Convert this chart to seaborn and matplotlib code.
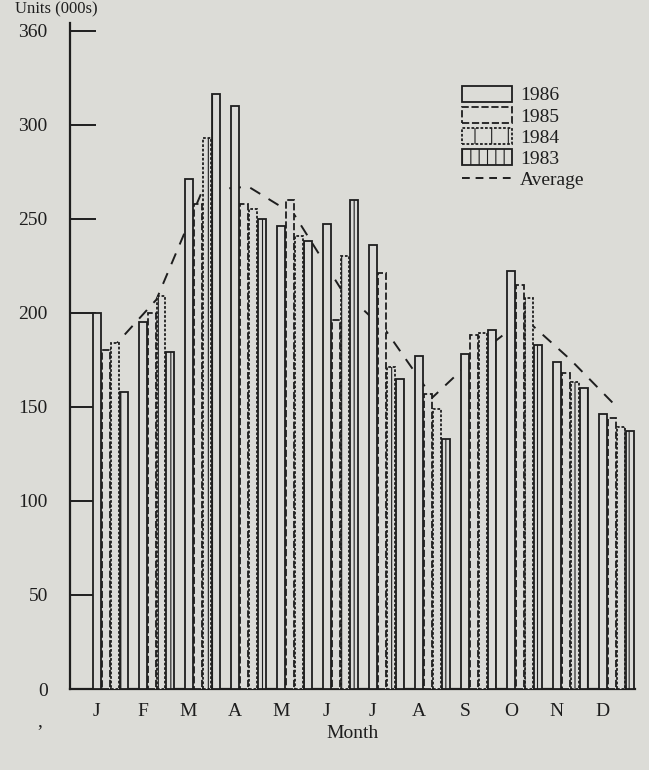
import numpy as np
import pandas as pd
import matplotlib
matplotlib.use("Agg")
import matplotlib.pyplot as plt
import seaborn as sns
from matplotlib.patches import Patch
from matplotlib.lines import Line2D

# ---- data ----
months = ["J", "F", "M", "A", "M", "J", "J", "A", "S", "O", "N", "D"]
years = ["1986", "1985", "1984", "1983"]
v1986 = [200, 195, 271, 310, 246, 247, 236, 177, 178, 222, 174, 146]
v1985 = [180, 200, 258, 258, 260, 196, 221, 157, 188, 215, 168, 144]
v1984 = [184, 209, 293, 255, 241, 230, 171, 149, 189, 208, 163, 139]
v1983 = [158, 179, 316, 250, 238, 260, 165, 133, 191, 183, 160, 137]
average = [180, 207, 265, 267, 252, 213, 190, 155, 178, 197, 175, 150]
ytick_vals = [0, 50, 100, 150, 200, 250, 300, 350]
ytick_labels = ["0", "50", "100", "150", "200", "250", "300", "360"]

BG = "#dcdcd7"
INK = "#1e1e1e"

rows = []
for yr, vals in zip(years, [v1986, v1985, v1984, v1983]):
    for i, v in enumerate(vals):
        rows.append({"pos": i, "Year": yr, "Value": v})
df = pd.DataFrame(rows)

sns.set_style("white")
plt.rcParams["font.family"] = ["Liberation Serif", "DejaVu Serif"]
plt.rcParams["hatch.color"] = INK
plt.rcParams["hatch.linewidth"] = 0.8

W, H = 649, 770
fig = plt.figure(figsize=(W / 100, H / 100), dpi=100, facecolor=BG)
ax = fig.add_axes([70 / W, (H - 689) / H, (635 - 70) / W, (689 - 23) / H])
ax.set_facecolor(BG)

sns.barplot(data=df, x="pos", y="Value", hue="Year", hue_order=years,
            palette=[BG] * 4, edgecolor=INK, linewidth=1.3, width=0.8,
            gap=0.12, legend=False, ax=ax, zorder=3)

styles = [
    dict(ls="-", hatch=None),
    dict(ls=(0, (4, 1.5)), hatch=None),
    dict(ls=(0, (1.5, 1)), hatch="|"),
    dict(ls="-", hatch="||"),
]
for cont, st in zip(ax.containers, styles):
    for p in cont:
        p.set_linestyle(st["ls"])
        if st["hatch"]:
            p.set_hatch(st["hatch"])
        p.set_zorder(3)

sns.lineplot(x=np.arange(len(months)), y=average, ax=ax, color=INK,
             linestyle=(0, (6, 5)), linewidth=1.4, zorder=1)

ax.set_xlim(-0.878, 11.4)
ax.set_ylim(0, 354)
ax.set_xticks(np.arange(len(months)) - 0.3)
ax.set_xticklabels(months, fontsize=14, color=INK)
ax.set_yticks(ytick_vals)
ax.set_yticklabels(ytick_labels, fontsize=14, color=INK)
ax.tick_params(axis="y", which="major", left=True, direction="in", length=19,
               width=1.4, color=INK, pad=16)
ax.tick_params(axis="x", length=0, pad=10)
ax.set_xlabel("Month", fontsize=14, color=INK, labelpad=4)
ax.set_ylabel("")
for s in ["top", "right"]:
    ax.spines[s].set_visible(False)
for s in ["left", "bottom"]:
    ax.spines[s].set_color(INK)
    ax.spines[s].set_linewidth(1.6)

# axis title at the top edge
fig.text(15 / W, 1 - 1 / H, "Units (000s)", fontsize=12, color=INK, ha="left", va="top")
fig.text(40 / W, (H - 722) / H, ",", fontsize=14, color=INK, ha="center", va="center")

handles = [
    Patch(facecolor=BG, edgecolor=INK, linestyle="-", linewidth=1.3),
    Patch(facecolor=BG, edgecolor=INK, linestyle=(0, (4, 1.5)), linewidth=1.3),
    Patch(facecolor=BG, edgecolor=INK, linestyle=(0, (1.5, 1)), linewidth=1.3, hatch="|"),
    Patch(facecolor=BG, edgecolor=INK, linestyle="-", linewidth=1.3, hatch="||"),
    Line2D([0], [0], color=INK, linestyle=(0, (4, 3)), linewidth=1.4),
]
labels = years + ["Average"]
leg = ax.legend(handles, labels, loc="upper left",
                bbox_to_anchor=(452 / W, 1 - 76 / H), bbox_transform=fig.transFigure,
                frameon=False, fontsize=14, handlelength=2.6, handleheight=0.9,
                labelspacing=0.12, handletextpad=0.4, borderpad=0)
for t in leg.get_texts():
    t.set_color(INK)

fig.savefig("out.png", dpi=100, facecolor=BG)
